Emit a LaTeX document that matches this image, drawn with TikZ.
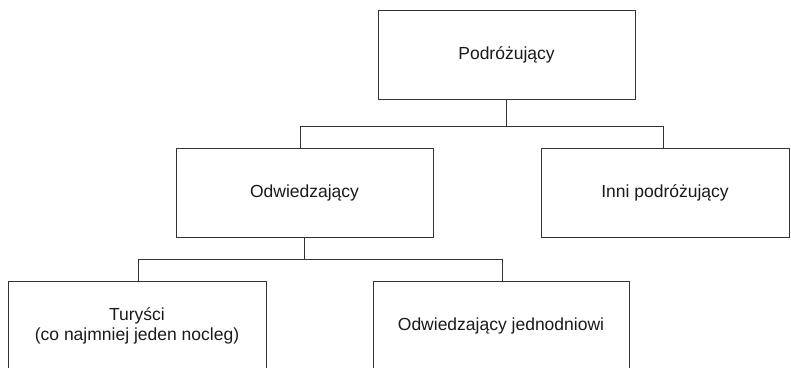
\documentclass[tikz,border=0pt]{standalone}
\usepackage{fontspec}
\setmainfont{Liberation Sans}
\definecolor{linegray}{HTML}{333333}
\definecolor{textgray}{HTML}{1A1A1A}
\begin{document}
\begin{tikzpicture}[x=1pt,y=-1pt,
  box/.style={draw=linegray, line width=1pt, rectangle, minimum height=89pt,
    align=center, text=textgray, font=\fontsize{17.5}{20}\selectfont, inner sep=0pt},
  conn/.style={draw=linegray, line width=1pt}]
\useasboundingbox (0,0) rectangle (791,367);
\clip (0,0) rectangle (791,367);
\node[box, minimum width=257pt] (top) at (506.5,54.5) {Podróżujący};
\node[box, minimum width=257pt] (odw) at (304.5,192.5) {Odwiedzający};
\node[box, minimum width=248pt] (inni) at (665,192.5) {Inni podróżujący};
\node[box, minimum width=258pt] (tur) at (137,325.5) {Turyści\\(co najmniej jeden nocleg)};
\node[box, minimum width=256pt] (jed) at (501,325.5) {Odwiedzający jednodniowi};
\coordinate (h1) at (300,126);
\coordinate (h2) at (663,126);
\coordinate (h3) at (138,259);
\coordinate (h4) at (502,259);
\draw[conn] (top.south) -- (top.south |- h1);
\draw[conn] (odw.north -| h1) |- (h2) -- (h2 |- inni.north);
\draw[conn] (odw.south) -- (odw.south |- h3);
\draw[conn] (tur.north -| h3) |- (h4) -- (h4 |- jed.north);
\end{tikzpicture}
\end{document}
